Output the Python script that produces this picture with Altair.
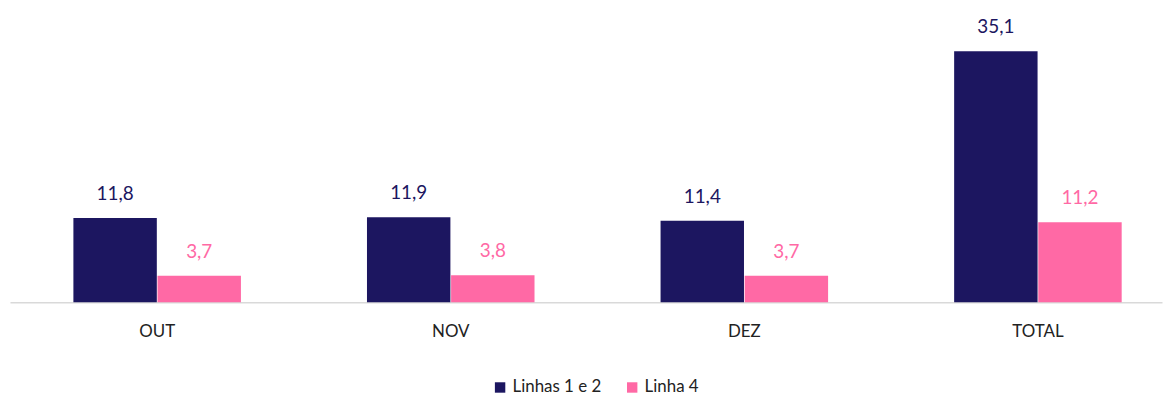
import altair as alt
import pandas as pd

categories = ["OUT", "NOV", "DEZ", "TOTAL"]
series = ["Linhas 1 e 2", "Linha 4"]
linhas_1_2 = [11.8, 11.9, 11.4, 35.1]
linha_4 = [3.7, 3.8, 3.7, 11.2]
colors = ["#1C1660", "#FF69A5"]

rows = []
for i, c in enumerate(categories):
    rows.append({"cat": c, "serie": series[0], "v": linhas_1_2[i]})
    rows.append({"cat": c, "serie": series[1], "v": linha_4[i]})
df = pd.DataFrame(rows)

FONT = "Lato"

x = alt.X("cat:N", sort=categories, title=None,
          scale=alt.Scale(paddingInner=0.427, paddingOuter=0.1755, align=0.612),
          axis=alt.Axis(labelAngle=0, labelFontSize=17, labelFont=FONT, labelColor="#222222",
                        domainColor="#D9D9D9", domainWidth=1.5, ticks=False, labelPadding=21))
xo = alt.XOffset("serie:N", sort=series, scale=alt.Scale(paddingInner=0, paddingOuter=0))
y = alt.Y("v:Q", scale=alt.Scale(domain=[0, 40]), axis=None)
color = alt.Color("serie:N", sort=series,
                  scale=alt.Scale(domain=series, range=colors),
                  legend=alt.Legend(title=None, orient="none", legendX=485, legendY=365,
                                    direction="horizontal", symbolType="square", symbolSize=110,
                                    symbolStrokeWidth=0, labelFontSize=17, labelFont=FONT,
                                    labelColor="#222222", columnPadding=22, symbolOffset=0,
                                    padding=0))

bars = alt.Chart(df).mark_bar(size=84).encode(x=x, xOffset=xo, y=y, color=color)
labels = alt.Chart(df).transform_calculate(
    lab="replace(format(datum.v, '.1f'), '.', ',')"
).mark_text(baseline="bottom", dy=-14, fontSize=19, font=FONT).encode(
    x=x, xOffset=xo, y=y, text="lab:N",
    color=alt.Color("serie:N", sort=series, scale=alt.Scale(domain=series, range=colors), legend=None))

chart = alt.layer(bars, labels).properties(
    width=1160, height=288,
    background="white",
    autosize=alt.AutoSizeParams(type="none"),
    padding={"left": 2, "top": 7, "right": 1, "bottom": 97},
).configure_view(stroke=None)

chart.save("out.html", embed_options={"renderer": "svg", "actions": False})
